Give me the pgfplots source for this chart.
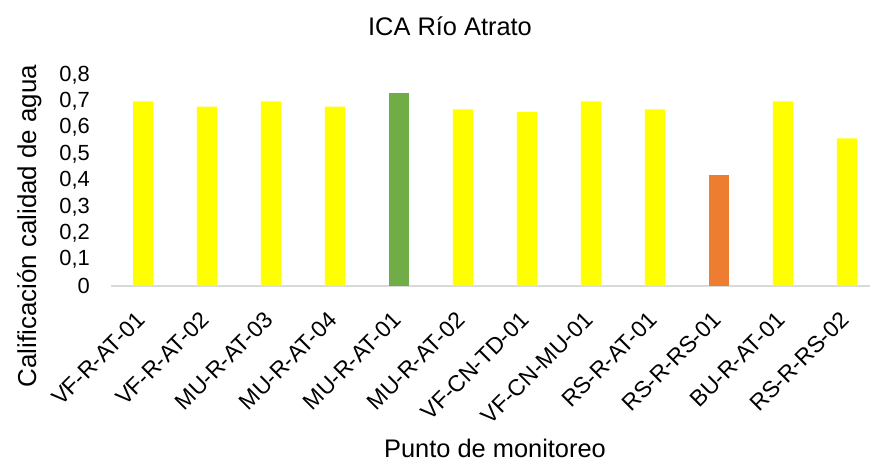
\documentclass[border=0pt]{standalone}
\usepackage{pgfplots}
\pgfplotsset{compat=1.18}
\usepackage{fontspec}
\setmainfont{Liberation Sans}
\definecolor{cyellow}{RGB}{255,255,0}
\definecolor{cgreen}{RGB}{112,173,71}
\definecolor{corange}{RGB}{237,125,49}
\definecolor{cgrid}{RGB}{217,217,217}
\begin{document}
\begin{tikzpicture}[x=1bp,y=1bp]
\useasboundingbox (0,0) rectangle (870,462);
\begin{axis}[
  at={(111bp,176bp)}, anchor=south west,
  scale only axis, width=759bp, height=211bp,
  xmin=-0.5, xmax=11.36, ymin=0, ymax=0.8,
  ybar, bar width=20bp, bar shift=0pt,
  separate axis lines,
  axis x line*=bottom, axis y line*=left,
  x axis line style={draw=cgrid, line width=1.5bp, -},
  y axis line style={draw=none},
  tick style={draw=none}, major tick length=0pt,
  xtick={0,...,11},
  xticklabels={VF-R-AT-01,VF-R-AT-02,MU-R-AT-03,MU-R-AT-04,MU-R-AT-01,MU-R-AT-02,VF-CN-TD-01,VF-CN-MU-01,RS-R-AT-01,RS-R-RS-01,BU-R-AT-01,RS-R-RS-02},
  xticklabel style={font=\fontsize{23}{23}\selectfont, xshift=-8bp, yshift=-24bp, rotate=45, anchor=north east, inner sep=0pt},
  ytick={0,0.1,...,0.8},
  yticklabel style={font=\fontsize{22}{22}\selectfont, anchor=east, inner sep=0pt, xshift=-21bp,
    /pgf/number format/.cd, use comma, fixed, precision=1, assume math mode=true},
  clip=false,
]
\addplot[fill=cyellow, draw=none] coordinates {
 (0,0.70) (1,0.68) (2,0.70) (3,0.68) (5,0.67) (6,0.66) (7,0.70) (8,0.67) (10,0.70) (11,0.56)};
\addplot[fill=cgreen, draw=none] coordinates {(4,0.73)};
\addplot[fill=corange, draw=none] coordinates {(9,0.42)};
\end{axis}
\node[anchor=base, font=\fontsize{25.5}{25.5}\selectfont] at (450,426.5) {ICA Río Atrato};
\node[anchor=base, font=\fontsize{25.5}{25.5}\selectfont] at (495,4) {Punto de monitoreo};
\node[anchor=base, rotate=90, font=\fontsize{26}{26}\selectfont] at (36,236) {Calificación calidad de agua};
\end{tikzpicture}
\end{document}
